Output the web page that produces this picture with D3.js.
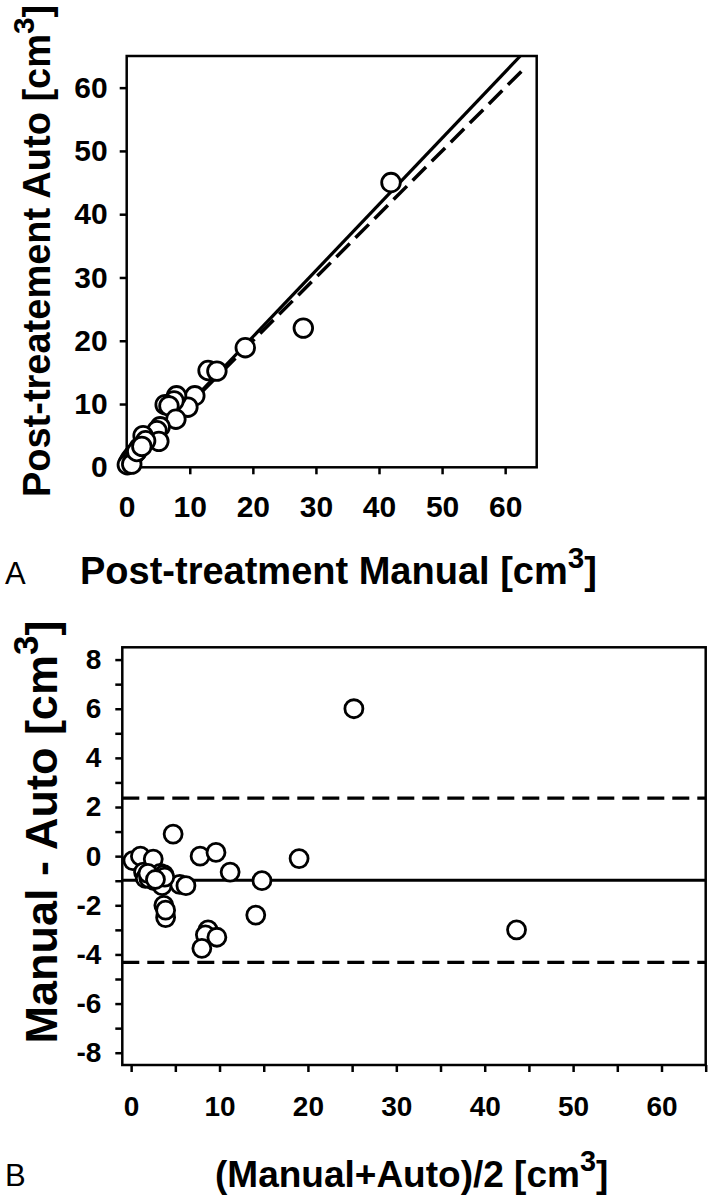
<!DOCTYPE html>
<html>
<head>
<meta charset="utf-8">
<script src="https://cdn.jsdelivr.net/npm/d3@7"></script>
<style>
    body { margin: 0; background: #fff; }
    svg { display: block; font-family: 'Liberation Sans', Arial, sans-serif; }
    .tick line { stroke: #000; stroke-width: 2.5; }
    .tick text { font-weight: bold; fill: #000; }
</style>
</head>
<body>
<div id="chart"></div>
<script>
// panel A: post-treatment volumes (cm3)
const manualVol = [41.9, 28.0, 18.8, 12.9, 14.3, 10.8, 9.7, 7.9, 7.5, 6.1, 6.7, 7.8, 5.3, 4.8, 5.1,
    2.6, 3.0, 2.0, 1.4, 1.0, 0.6, 0.3, 0.1, 0.8, 1.6, 2.4];
const autoVol = [45.0, 22.0, 18.9, 15.3, 15.2, 11.3, 9.5, 11.3, 10.5, 9.9, 9.7, 7.6, 6.4, 5.8, 4.1,
    5.0, 4.2, 3.1, 2.3, 1.8, 1.3, 0.8, 0.4, 0.5, 2.5, 3.3];
const identityX = [0, 63.3];
const identityY = [0, 63.3];
const fitX = [0.3, 62.4];
const fitY = [0, 65];
const scatterTicks = [0, 10, 20, 30, 40, 50, 60];

// panel B: Bland-Altman
const meanVol = [0.2, 1.05, 1.4, 1.6, 2.5, 2.6, 3.3, 3.7, 3.5, 5.5, 6.2, 3.7, 3.9, 4.75, 7.8,
    9.6, 11.2, 14.8, 14.1, 19.0, 25.2, 43.6, 8.7, 8.4, 9.7, 8.0, 2.0, 1.9, 3.8, 2.75, 3.9];
const diffVol = [-0.18, 0.0, -0.65, -0.9, -0.12, -1.0, -0.7, -0.75, -1.2, -1.15, -1.2, -2.0, -2.5, 0.9, 0.0,
    0.15, -0.65, -1.0, -2.4, -0.1, 6.0, -3.0, -3.0, -3.2, -3.3, -3.75, -0.9, -0.7, -0.85, -0.95, -2.2];
const biasValue = -0.98;
const loaUpper = 2.36;
const loaLower = -4.32;
const baTicksX = [0, 5, 10, 15, 20, 25, 30, 35, 40, 45, 50, 55, 60, 65];
const baLabelsX = [0, 10, 20, 30, 40, 50, 60];
const baTicksY = d3.range(-8, 9, 1);
const baLabelsY = [-8, -6, -4, -2, 0, 2, 4, 6, 8];

const W = 716;
const H = 1200;

const svg = d3.select('#chart').append('svg').attr('width', W).attr('height', H);

// title with superscript 3
const addTitle = (g, text, size, attrs) => {
    const t = g.append('text')
        .attr('font-size', size)
        .attr('font-weight', 'bold');
    Object.keys(attrs).forEach((k) => t.attr(k, attrs[k]));
    t.append('tspan').text(text + ' [cm');
    t.append('tspan').attr('dy', -0.42 * size).attr('font-size', size * 0.78).text('3');
    t.append('tspan').attr('dy', 0.42 * size).text(']');
    return t;
};

// ---------- Panel A ----------
const ax = d3.scaleLinear().domain([0, 65]).range([126.7, 536.7]);
const ay = d3.scaleLinear().domain([0, 65]).range([467.3, 56]);

const gA = svg.append('g');

gA.append('g')
    .attr('transform', 'translate(0,' + ay(0) + ')')
    .call(d3.axisBottom(ax).tickValues(scatterTicks).tickSize(7).tickPadding(21))
    .call((g) => g.select('.domain').remove())
    .selectAll('text').attr('font-size', 30);

gA.append('g')
    .attr('transform', 'translate(' + ax(0) + ',0)')
    .call(d3.axisLeft(ay).tickValues(scatterTicks).tickSize(7).tickPadding(12))
    .call((g) => g.select('.domain').remove())
    .selectAll('text').attr('font-size', 30);

gA.append('rect')
    .attr('x', ax(0)).attr('y', ay(65))
    .attr('width', ax(65) - ax(0)).attr('height', ay(0) - ay(65))
    .attr('fill', 'none').attr('stroke', '#000').attr('stroke-width', 2.5);

const line = d3.line().x((d) => ax(d[0])).y((d) => ay(d[1]));

gA.append('path')
    .datum(d3.zip(identityX, identityY))
    .attr('d', line)
    .attr('fill', 'none').attr('stroke', '#000').attr('stroke-width', 3.5)
    .attr('stroke-dasharray', '19,8');

gA.append('path')
    .datum(d3.zip(fitX, fitY))
    .attr('d', line)
    .attr('fill', 'none').attr('stroke', '#000').attr('stroke-width', 3.2);

gA.selectAll('circle.pt')
    .data(d3.zip(manualVol, autoVol))
    .enter()
    .append('circle')
    .attr('class', 'pt')
    .attr('cx', (d) => ax(d[0]))
    .attr('cy', (d) => ay(d[1]))
    .attr('r', 9.3)
    .attr('fill', '#fff').attr('stroke', '#000').attr('stroke-width', 2.8);

addTitle(gA, 'Post-treatement Auto', 38, {
    transform: 'translate(50,' + 251 + ') rotate(-90)',
    'text-anchor': 'middle'
});

gA.append('text').attr('x', 5).attr('y', 584).attr('font-size', 31).text('A');
addTitle(gA, 'Post-treatment Manual', 38, { x: 80, y: 584 });

// ---------- Panel B ----------
const bx = d3.scaleLinear().domain([-1, 65]).range([122.3, 705.7]);
const by = d3.scaleLinear().domain([-8.5, 8.5]).range([1065, 647.3]);

const gB = svg.append('g');

gB.append('g')
    .attr('transform', 'translate(0,' + by(-8.5) + ')')
    .call(d3.axisBottom(bx).tickValues(baTicksX).tickSize(7).tickPadding(24)
        .tickFormat((d) => (baLabelsX.includes(d) ? d : '')))
    .call((g) => g.select('.domain').remove())
    .selectAll('text').attr('font-size', 28);

gB.append('g')
    .attr('transform', 'translate(' + bx(-1) + ',0)')
    .call(d3.axisLeft(by).tickValues(baTicksY).tickSize(7).tickPadding(14)
        .tickFormat((d) => (baLabelsY.includes(d) ? d : '')))
    .call((g) => g.select('.domain').remove())
    .selectAll('text').attr('font-size', 28);

gB.append('rect')
    .attr('x', bx(-1)).attr('y', by(8.5))
    .attr('width', bx(65) - bx(-1)).attr('height', by(-8.5) - by(8.5))
    .attr('fill', 'none').attr('stroke', '#000').attr('stroke-width', 2.5);

[loaUpper, loaLower].forEach((v) => {
    gB.append('line')
        .attr('x1', bx(-1)).attr('x2', bx(65))
        .attr('y1', by(v)).attr('y2', by(v))
        .attr('stroke', '#000').attr('stroke-width', 3.2)
        .attr('stroke-dasharray', '17,8');
});

gB.append('line')
    .attr('x1', bx(-1)).attr('x2', bx(65))
    .attr('y1', by(biasValue)).attr('y2', by(biasValue))
    .attr('stroke', '#000').attr('stroke-width', 2.8);

gB.selectAll('circle.pt')
    .data(d3.zip(meanVol, diffVol))
    .enter()
    .append('circle')
    .attr('class', 'pt')
    .attr('cx', (d) => bx(d[0]))
    .attr('cy', (d) => by(d[1]))
    .attr('r', 9)
    .attr('fill', '#fff').attr('stroke', '#000').attr('stroke-width', 2.8);

addTitle(gB, 'Manual - Auto', 45, {
    transform: 'translate(57,' + 832 + ') rotate(-90)',
    'text-anchor': 'middle'
});

gB.append('text').attr('x', 5).attr('y', 1186).attr('font-size', 31).text('B');
addTitle(gB, '(Manual+Auto)/2', 37, { x: 215, y: 1187 });
</script>
</body>
</html>
